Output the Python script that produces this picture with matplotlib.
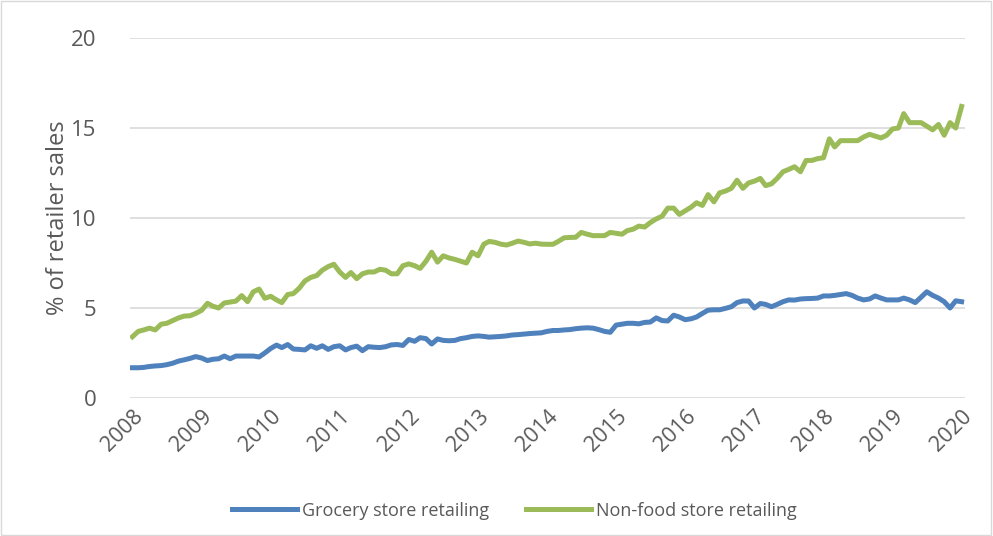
#!/usr/bin/env python3
"""
Online share of retailer sales: grocery vs non-food stores (2008-2020)
"""

import pandas as pd
import matplotlib.pyplot as plt
import matplotlib.dates as mdates
from matplotlib.patches import Rectangle

# Dados mensais (Jan 2008 - Jan 2020)
grocery = [
    1.68, 1.68, 1.70, 1.75, 1.78, 1.80, 1.85, 1.93, 2.05, 2.12, 2.20, 2.30,   # 2008
    2.22, 2.08, 2.15, 2.18, 2.33, 2.18, 2.33, 2.33, 2.33, 2.33, 2.28, 2.50,   # 2009
    2.75, 2.94, 2.80, 2.97, 2.72, 2.70, 2.67, 2.90, 2.76, 2.90, 2.70, 2.85,   # 2010
    2.90, 2.67, 2.80, 2.88, 2.63, 2.85, 2.82, 2.80, 2.85, 2.95, 2.97, 2.92,   # 2011
    3.25, 3.15, 3.35, 3.30, 3.00, 3.28, 3.20, 3.18, 3.20, 3.30, 3.35, 3.42,   # 2012
    3.45, 3.42, 3.38, 3.40, 3.42, 3.45, 3.50, 3.52, 3.55, 3.58, 3.60, 3.62,   # 2013
    3.70, 3.75, 3.75, 3.78, 3.80, 3.85, 3.88, 3.90, 3.88, 3.80, 3.70, 3.65,   # 2014
    4.05, 4.10, 4.15, 4.15, 4.12, 4.20, 4.22, 4.45, 4.30, 4.28, 4.60, 4.50,   # 2015
    4.35, 4.40, 4.50, 4.70, 4.88, 4.90, 4.90, 4.98, 5.07, 5.30, 5.39, 5.39,   # 2016
    5.00, 5.25, 5.20, 5.07, 5.20, 5.35, 5.45, 5.44, 5.50, 5.52, 5.53, 5.55,   # 2017
    5.67, 5.67, 5.70, 5.75, 5.80, 5.70, 5.55, 5.45, 5.50, 5.67, 5.55, 5.45,   # 2018
    5.45, 5.45, 5.55, 5.45, 5.30, 5.60, 5.90, 5.70, 5.55, 5.35, 5.00, 5.40,   # 2019
    5.35,                                                                     # 2020
]
non_food = [
    3.40, 3.70, 3.78, 3.88, 3.78, 4.10, 4.15, 4.30, 4.45, 4.55, 4.57, 4.70,   # 2008
    4.87, 5.26, 5.10, 5.00, 5.28, 5.33, 5.38, 5.69, 5.35, 5.90, 6.05, 5.54,   # 2009
    5.65, 5.45, 5.30, 5.75, 5.80, 6.10, 6.50, 6.70, 6.80, 7.10, 7.30, 7.43,   # 2010
    7.00, 6.70, 6.97, 6.63, 6.90, 7.00, 7.00, 7.15, 7.10, 6.90, 6.90, 7.35,   # 2011
    7.45, 7.35, 7.20, 7.60, 8.10, 7.55, 7.90, 7.78, 7.70, 7.60, 7.50, 8.10,   # 2012
    7.90, 8.55, 8.70, 8.65, 8.55, 8.50, 8.60, 8.72, 8.65, 8.56, 8.60, 8.55,   # 2013
    8.54, 8.54, 8.70, 8.90, 8.92, 8.93, 9.20, 9.10, 9.02, 9.02, 9.02, 9.20,   # 2014
    9.15, 9.10, 9.30, 9.38, 9.55, 9.50, 9.75, 9.95, 10.10, 10.55, 10.55, 10.20,  # 2015
    10.40, 10.60, 10.85, 10.70, 11.30, 10.90, 11.40, 11.50, 11.65, 12.10, 11.65, 11.95,  # 2016
    12.05, 12.20, 11.80, 11.90, 12.20, 12.57, 12.70, 12.85, 12.57, 13.20, 13.20, 13.30,  # 2017
    13.35, 14.40, 13.95, 14.30, 14.30, 14.30, 14.30, 14.50, 14.65, 14.55, 14.45, 14.60,  # 2018
    14.95, 15.00, 15.80, 15.30, 15.30, 15.30, 15.10, 14.90, 15.20, 14.60, 15.30, 15.00,  # 2019
    16.20,                                                                    # 2020
]
dates = pd.date_range('2008-01-01', periods=len(grocery), freq='MS')
series_names = ['Grocery store retailing', 'Non-food store retailing']
y_ticks = [0, 5, 10, 15, 20]

text_color = '#595959'
plt.rcParams['font.family'] = ['Open Sans', 'DejaVu Sans']

fig = plt.figure(figsize=(9.93, 5.36), dpi=100)
ax = fig.add_axes([0.131, 0.2575, 0.841, 0.6715])

ax.plot(dates, grocery, color='#4f81bd', linewidth=3.6, label=series_names[0],
        solid_joinstyle='round')
ax.plot(dates, non_food, color='#9bbb59', linewidth=3.6, label=series_names[1],
        solid_joinstyle='round')

ax.set_ylim(0, 20)
ax.set_yticks(y_ticks)
ax.set_xlim(pd.Timestamp('2007-12-20'), pd.Timestamp('2020-01-20'))
ax.xaxis.set_major_locator(mdates.YearLocator())
ax.xaxis.set_major_formatter(mdates.DateFormatter('%Y'))

ax.grid(axis='y', color='#d9d9d9', linewidth=1.2)
ax.set_axisbelow(True)
for s in ax.spines.values():
    s.set_visible(False)
ax.tick_params(axis='y', length=0, labelsize=16, colors=text_color, pad=24)
ax.tick_params(axis='x', length=0, labelsize=15.5, colors=text_color, pad=6)
for lab in ax.get_xticklabels():
    lab.set_rotation(45)
    lab.set_ha('right')
    lab.set_rotation_mode('anchor')

ax.set_ylabel('% of retailer sales', fontsize=17, color=text_color, labelpad=1)

fig.legend(loc='center', bbox_to_anchor=(0.518, 0.047), ncol=2, frameon=False,
           fontsize=13, labelcolor=text_color, handlelength=3.6,
           columnspacing=2.0, handletextpad=0.3)

# borda da área do gráfico
fig.add_artist(Rectangle((0.001, 0.001), 0.997, 0.997, transform=fig.transFigure,
                         fill=False, edgecolor='#d9d9d9', linewidth=1))

plt.savefig('out.png', dpi=100)
plt.close()
